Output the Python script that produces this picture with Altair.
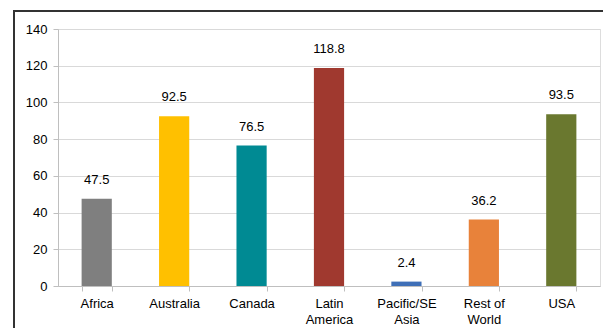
import altair as alt
import pandas as pd

regions = ["Africa", "Australia", "Canada", "Latin\nAmerica", "Pacific/SE\nAsia", "Rest of\nWorld", "USA"]
values = [47.5, 92.5, 76.5, 118.8, 2.4, 36.2, 93.5]
colors = ["#7f7f7f", "#ffc000", "#008a93", "#a0392f", "#3f6fb7", "#e8823a", "#6a782f"]
y_ticks = [0, 20, 40, 60, 80, 100, 120, 140]

df = pd.DataFrame({"region": regions, "value": values, "color": colors})

FONT = "Liberation Sans"
axis_style = dict(
    labelFont=FONT,
    labelFontSize=13,
    labelColor="#000000",
    labelOverlap=False,
    tickSize=5,
    tickColor="#bfbfbf",
    domainColor="#bfbfbf",
)

x = alt.X(
    "region:N",
    sort=regions,
    title=None,
    scale=alt.Scale(paddingInner=0.61, paddingOuter=0.305),
    axis=alt.Axis(
        labelAngle=0,
        labelExpr="datum.value ? split(datum.value, '\\n') : ''",
        labelLineHeight=16,
        labelPadding=6,
        tickBand="extent",
        grid=False,
        **axis_style,
    ),
)

y = alt.Y(
    "value:Q",
    title=None,
    scale=alt.Scale(domain=[0, 140], nice=False),
    axis=alt.Axis(
        values=y_ticks, labelPadding=6, gridColor="#d9d9d9", gridWidth=1, **axis_style
    ),
)

base = alt.Chart(df).encode(x=x, y=y)

bars = base.mark_bar().encode(color=alt.Color("color:N", scale=None))

labels = base.mark_text(
    dy=-12, font=FONT, fontSize=13, color="#000000", baseline="bottom"
).encode(text=alt.Text("value:Q", format=".1f"))

frame = alt.Chart(df).mark_rect(
    fill=None, stroke="#333333", strokeWidth=1.5, clip=False
).encode(
    x=alt.value(-44), x2=alt.value(620), y=alt.value(-18), y2=alt.value(320)
)

chart = (
    alt.layer(bars, labels, frame)
    .properties(
        width=542,
        height=257,
        padding={"left": 58, "top": 29, "right": 3, "bottom": 42},
        autosize=alt.AutoSizeParams(type="none"),
    )
    .configure_view(stroke=None)
    .configure(background="white")
)

chart.save("out.html", embed_options={"renderer": "svg", "actions": False})
